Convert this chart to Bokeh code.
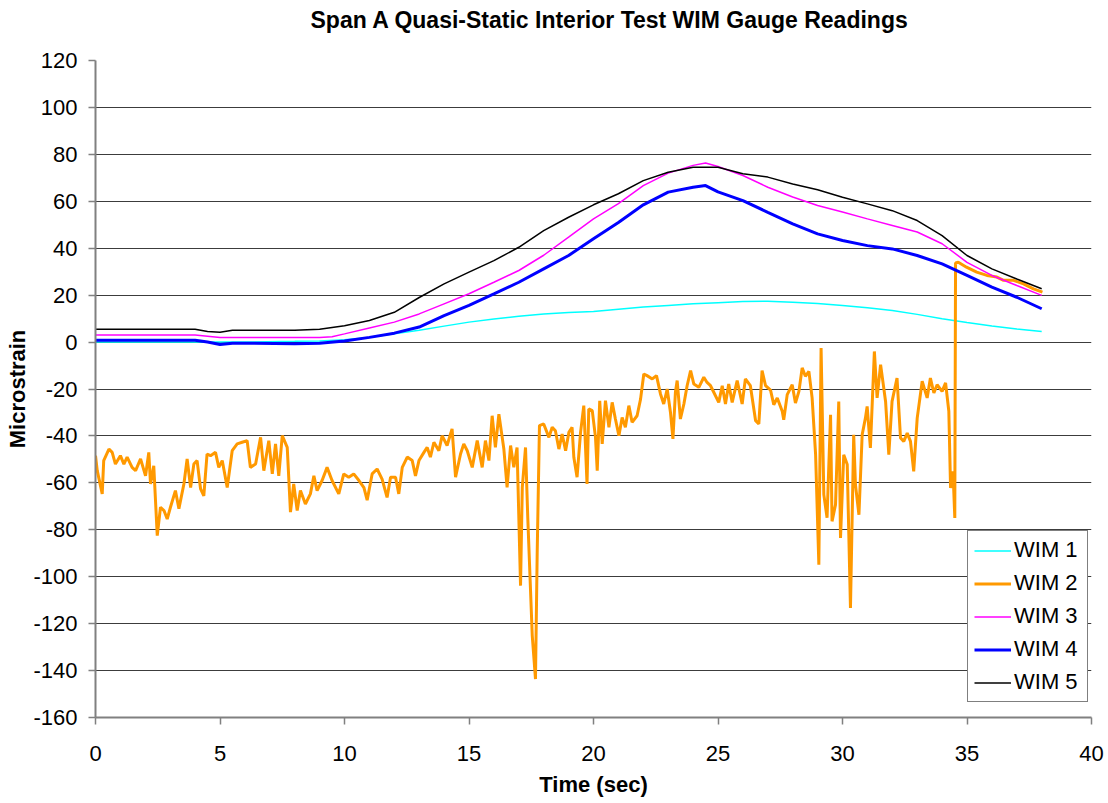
from bokeh.plotting import figure
from bokeh.models import Range1d, FixedTicker, Legend, LegendItem, Title
from bokeh.embed import file_html
from bokeh.resources import INLINE

title_text = "Span A Quasi-Static Interior Test WIM Gauge Readings"
x_label = "Time (sec)"
y_label = "Microstrain"
x_ticks = [0, 5, 10, 15, 20, 25, 30, 35, 40]
y_ticks = [-160, -140, -120, -100, -80, -60, -40, -20, 0, 20, 40, 60, 80, 100, 120]

wim1_t = [0, 2, 4, 6, 8, 9, 10, 11, 12, 13, 14, 15, 16, 17, 18, 19, 20, 21, 22, 23, 24, 25,
          26, 27, 28, 29, 30, 31, 32, 33, 34, 35, 36, 37, 38]
wim1_v = [0, 0, 0, 0, 0.3, 0.5, 1, 2, 3.5, 5, 6.8, 8.5, 9.8, 11, 12, 12.6, 13, 14, 14.9, 15.6,
          16.3, 16.8, 17.3, 17.4, 17, 16.4, 15.6, 14.6, 13.5, 11.8, 9.9, 8.3, 6.8, 5.6, 4.5]

wim3_t = [0, 2, 4, 4.5, 5, 6, 8, 9, 9.5, 10, 11, 12, 13, 14, 15, 16, 17, 18, 19, 20, 21, 22, 23,
          24, 24.5, 25, 26, 27, 28, 29, 30, 31, 32, 33, 34, 35, 36, 37, 38]
wim3_v = [3, 3, 3, 2.5, 2, 2, 2, 2, 2.3, 3.5, 6, 8.5, 12, 16.3, 20.6, 25.5, 30.5, 37, 44.7, 52.5,
          59, 66.7, 72, 75.3, 76.3, 74.8, 71, 66, 61.8, 58.2, 55.4, 52.5, 49.7, 46.9, 41.9, 34,
          28.4, 24.1, 19.9]

wim4_t = [0, 2, 4, 4.5, 5, 5.5, 6, 8, 9, 10, 11, 12, 13, 14, 15, 16, 17, 18, 19, 20, 21, 22, 23,
          24, 24.5, 25, 26, 27, 28, 29, 30, 31, 32, 33, 34, 35, 36, 37, 38]
wim4_v = [0.8, 0.8, 0.8, 0, -1, -0.5, -0.5, -0.7, -0.5, 0.5, 2, 3.8, 6.4, 11.3, 15.6, 20.5, 25.5,
          31.2, 36.9, 44, 51, 58.5, 63.9, 66, 66.7, 64, 60.3, 55.3, 50.4, 46.1, 43.3, 41.1, 39.7,
          36.9, 33.3, 28.4, 23.4, 19.1, 14.2]

wim5_t = [0, 2, 4, 4.5, 5, 5.5, 6, 8, 9, 10, 11, 12, 13, 14, 15, 16, 17, 18, 19, 20, 21, 22, 23,
          24, 25, 26, 27, 28, 29, 30, 31, 32, 33, 34, 35, 36, 37, 38]
wim5_v = [5.5, 5.5, 5.5, 4.5, 4.2, 5, 5, 5, 5.5, 7, 9.2, 12.7, 19, 24.8, 29.8, 34.7, 40.4, 47.5,
          53.2, 58.5, 63.2, 68.8, 72.4, 74.5, 74.5, 71.7, 70.3, 67.4, 64.9, 61.7, 58.9, 56, 51.8,
          45.4, 36.9, 31.2, 26.9, 22.7]

wim2_t = [0.00, 0.07, 0.27, 0.33, 0.54, 0.67, 0.80, 1.00, 1.14, 1.27, 1.47, 1.61, 1.81, 2.01,
          2.14, 2.21, 2.34, 2.48, 2.61, 2.75, 2.88, 3.01, 3.21, 3.35, 3.55, 3.68, 3.82, 3.95,
          4.08, 4.22, 4.35, 4.48, 4.62, 4.82, 4.95, 5.09, 5.29, 5.49, 5.69, 5.89, 6.09, 6.22,
          6.43, 6.63, 6.76, 6.96, 7.10, 7.23, 7.36, 7.50, 7.70, 7.83, 7.96, 8.10, 8.23, 8.43,
          8.63, 8.77, 8.90, 9.10, 9.30, 9.50, 9.77, 9.97, 10.17, 10.37, 10.58, 10.78, 10.91,
          11.11, 11.31, 11.51, 11.71, 11.85, 12.05, 12.18, 12.32, 12.52, 12.72, 12.85, 12.99,
          13.19, 13.32, 13.45, 13.59, 13.79, 13.92, 14.12, 14.32, 14.46, 14.66, 14.79, 14.93,
          15.13, 15.33, 15.53, 15.66, 15.80, 15.93, 16.06, 16.20, 16.40, 16.53, 16.67, 16.80,
          16.93, 17.07, 17.14, 17.27, 17.36, 17.54, 17.67, 17.74, 17.83, 18.00, 18.21, 18.34,
          18.47, 18.61, 18.74, 18.88, 19.01, 19.14, 19.21, 19.34, 19.48, 19.61, 19.74, 19.81,
          19.95, 20.08, 20.15, 20.25, 20.35, 20.48, 20.62, 20.75, 20.88, 21.02, 21.15, 21.28,
          21.42, 21.55, 21.75, 21.89, 22.02, 22.15, 22.36, 22.53, 22.69, 22.82, 22.96, 23.09,
          23.19, 23.29, 23.36, 23.49, 23.63, 23.76, 23.90, 24.03, 24.23, 24.43, 24.56, 24.70,
          24.83, 25.03, 25.17, 25.30, 25.43, 25.57, 25.77, 25.97, 26.10, 26.30, 26.51, 26.64,
          26.77, 26.91, 27.11, 27.24, 27.38, 27.58, 27.64, 27.78, 27.98, 28.11, 28.25, 28.38,
          28.51, 28.65, 28.78, 28.92, 29.05, 29.14, 29.25, 29.38, 29.52, 29.58, 29.72, 29.85,
          29.92, 30.05, 30.19, 30.32, 30.45, 30.52, 30.66, 30.79, 30.92, 30.99, 31.12, 31.28,
          31.39, 31.53, 31.73, 31.86, 31.99, 32.19, 32.33, 32.46, 32.60, 32.73, 32.86, 33.00,
          33.20, 33.40, 33.53, 33.67, 33.80, 34.00, 34.14, 34.27, 34.34, 34.44, 34.51, 34.54,
          34.65, 34.98, 35.39, 35.80, 36.20, 36.47, 36.87, 37.27, 37.67, 38.03]
wim2_v = [-48.4, -54.8, -64.7, -50.5, -45.6, -47, -52, -48.4, -52, -49, -53.4, -54.8, -49.8, -57,
          -47, -60.5, -52.7, -82.5, -70.4, -71.8, -75.4, -70.4, -63.3, -71, -60.5, -49.8, -62, -52,
          -50.5, -62.6, -65.5, -47.7, -48.4, -47, -53.4, -50.5, -62, -46.3, -43.4, -42.7, -42,
          -53.4, -52, -40.6, -54.8, -42, -56.2, -43.4, -57, -39.9, -44.9, -72.5, -60.5, -71.8,
          -63.3, -69, -64.7, -57, -63.3, -59, -53.4, -59, -64.7, -56.2, -57.6, -56.2, -59, -62,
          -67.4, -56.2, -54.1, -58.4, -66.2, -57.6, -57.6, -64.7, -53.4, -49, -50.5, -57, -50.5,
          -47, -44.9, -49, -42.7, -46.3, -39.9, -44.1, -37, -57.6, -47.7, -43.4, -46.3, -53.4,
          -42, -53.4, -42, -50.5, -31.4, -44.9, -30.7, -45.6, -61.9, -44.1, -53.4, -44.9, -103.8,
          -61.9, -44.9, -74.7, -125.1, -143.6, -88.9, -35.6, -34.9, -40.6, -36.3, -37.8, -45.6,
          -39.2, -46.3, -38.5, -36.3, -49.1, -57.6, -38.5, -27.1, -60.5, -28.5, -29.2, -40.6,
          -54.8, -25, -43.4, -25, -36.3, -25.7, -32.8, -39.9, -32.1, -36.3, -27.1, -34.2, -31.4,
          -24.3, -13.6, -14.3, -15.7, -14.3, -22.1, -26.4, -20, -29.9, -41.3, -21.4, -16.4, -32.8,
          -26.4, -18.6, -12.2, -17.9, -19.3, -15, -17.2, -18.6, -21.4, -25.7, -18.6, -26.4, -17.9,
          -25.7, -16.4, -26.4, -15.7, -18.6, -33.5, -34.9, -12.2, -18.6, -20.5, -26.7, -23.8,
          -29.5, -33.1, -22.4, -18.2, -26, -21, -11, -14.6, -12.5, -23.8, -48, -94.9, -2.5, -65,
          -74.9, -31, -76.4, -69.3, -25.3, -83.5, -48, -52.2, -113.3, -39.5, -60.8, -73.6, -39.5,
          -32.4, -27.4, -45.1, -4, -23.8, -9.6, -25.3, -48, -25.3, -15.3, -40.9, -42.3, -38.8,
          -42.3, -55.1, -32.4, -16.7, -23.8, -15.3, -21.7, -18.2, -21, -17.4, -29.5, -62.2, -55.1,
          -75, 33.7, 34, 31.9, 29.8, 28.4, 27.7, 26.3, 26.3, 24.8, 22.7, 21.3]

FONT = "Liberation Sans"
FS = "22px"

p = figure(frame_width=996, frame_height=657,
           x_range=Range1d(0, 40), y_range=Range1d(-160, 120),
           output_backend="svg", toolbar_location=None,
           min_border_left=95, min_border_right=17, min_border_top=60, min_border_bottom=80,
           background_fill_color="white", border_fill_color="white")
p.outline_line_color = None

for ax in (p.xaxis[0], p.yaxis[0]):
    ax.axis_line_color = "#808080"
    ax.axis_line_width = 2
    ax.major_tick_line_color = "#808080"
    ax.major_tick_line_width = 1.5
    ax.major_tick_in = 0
    ax.major_tick_out = 7
    ax.minor_tick_line_color = None
    ax.major_label_text_font = FONT
    ax.major_label_text_font_size = FS
    ax.major_label_text_color = "black"
    ax.axis_label_text_font = FONT
    ax.axis_label_text_font_size = FS
    ax.axis_label_text_font_style = "bold"
    ax.axis_label_text_color = "black"

p.xaxis.ticker = FixedTicker(ticks=x_ticks)
p.yaxis.ticker = FixedTicker(ticks=y_ticks)
p.yaxis.major_label_overrides = {t: str(t) for t in y_ticks}
p.xaxis.major_label_overrides = {t: str(t) for t in x_ticks}
p.xaxis.axis_label = x_label
p.yaxis.axis_label = y_label
p.xaxis.major_label_standoff = 21
p.yaxis.major_label_standoff = 11
p.xaxis.axis_label_standoff = 8
p.yaxis.axis_label_standoff = 0

p.xgrid.grid_line_color = None
p.ygrid.ticker = FixedTicker(ticks=y_ticks)
p.ygrid.grid_line_color = "#3c3c3c"
p.ygrid.grid_line_width = 1

r1 = p.line(wim1_t, wim1_v, line_color="#00FFFF", line_width=1.5)
r2 = p.line(wim2_t, wim2_v, line_color="#FF9900", line_width=3)
r3 = p.line(wim3_t, wim3_v, line_color="#FF00FF", line_width=1.5)
r4 = p.line(wim4_t, wim4_v, line_color="#0000FF", line_width=3)
r5 = p.line(wim5_t, wim5_v, line_color="#000000", line_width=1.5)

legend = Legend(items=[LegendItem(label="WIM 1", renderers=[r1]),
                       LegendItem(label="WIM 2", renderers=[r2]),
                       LegendItem(label="WIM 3", renderers=[r3]),
                       LegendItem(label="WIM 4", renderers=[r4]),
                       LegendItem(label="WIM 5", renderers=[r5])],
                location=(872, 15))
legend.label_text_font = FONT
legend.label_text_font_size = FS
legend.label_text_color = "black"
legend.border_line_color = "black"
legend.border_line_width = 1
legend.background_fill_color = "white"
legend.background_fill_alpha = 1
legend.padding = 6
legend.spacing = 7
legend.glyph_width = 37
legend.glyph_height = 25
legend.label_height = 25
legend.label_standoff = 3
legend.label_width = 67
legend.margin = 0
p.add_layout(legend, "center")

# spacer panel (closest to the frame) so the title sits higher
spacer = Title(text=" ", align="left", standoff=0,
               text_font=FONT, text_font_size="23px", text_font_style="bold")
p.add_layout(spacer, "above")
title = Title(text=title_text, align="left", offset=215, standoff=0,
              text_font=FONT, text_font_size="23px", text_font_style="bold", text_color="black")
p.add_layout(title, "above")

open("out.html", "w").write(file_html(p, INLINE))
